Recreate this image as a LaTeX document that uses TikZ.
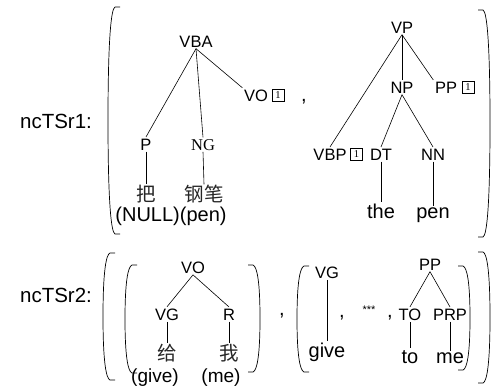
\documentclass[tikz,border=0pt]{standalone}
\usepackage{fontspec}
\setmainfont{Liberation Sans}
\newfontfamily\serifface{Liberation Serif}
\newfontfamily\cjk{Noto Sans CJK SC}
\tikzset{
  lbl/.style={font=\fontsize{16.5}{16.5}\selectfont, inner sep=1.5pt, anchor=base},
  leaf/.style={font=\fontsize{20}{20}\selectfont, inner sep=1.5pt, anchor=base},
  big/.style={font=\fontsize{20.5}{20.5}\selectfont, inner sep=0pt, anchor=base},
  zh/.style={font=\cjk\fontsize{19.5}{19.5}\selectfont, inner sep=0.5pt, text=black!85},
  bx/.style={draw, line width=0.5pt, inner sep=0pt, minimum width=12pt, minimum height=12pt, font=\serifface\fontsize{10.5}{10.5}\selectfont},
  edge/.style={line width=0.6pt},
  br/.style={line width=0.7pt}
}
\newcommand\LBr[3]{\draw[br] ({#1+12},#2) -- ({#1+7},#2) .. controls ({#1+3},{#2+1.5}) and (#1,{#2+0.15*(#3-#2)}) .. (#1,{(#2+#3)/2}) .. controls (#1,{#3-0.15*(#3-#2)}) and ({#1+3},{#3-1.5}) .. ({#1+7},#3) -- ({#1+12},#3);}
\newcommand\RBr[3]{\draw[br] ({#1-12},#2) -- ({#1-7},#2) .. controls ({#1-3},{#2+1.5}) and (#1,{#2+0.15*(#3-#2)}) .. (#1,{(#2+#3)/2}) .. controls (#1,{#3-0.15*(#3-#2)}) and ({#1-3},{#3-1.5}) .. ({#1-7},#3) -- ({#1-12},#3);}
\begin{document}
\begin{tikzpicture}[x=1pt,y=-1pt]
\useasboundingbox (0,0) rectangle (497,389);
% ---------- row 1 ----------
\node[big] (l1) at (56,128) {ncTSr1:};
\LBr{108}{7}{234}
\RBr{490}{10}{237}
% tree 1
\node[lbl] (vba) at (196,47) {VBA};
\node[lbl] (p) at (146,150) {P};
\node[lbl, font=\serifface\fontsize{16.5}{16.5}\selectfont] (ng) at (203,150) {NG};
\node[lbl] (vo) at (256,101) {VO};
\node[bx, anchor=south west] (vobx) at ([xshift=2pt]vo.base east) {1};
\node[leaf] (comma1) at (304,101) {,};
\node[zh] (ba) at (146,194) {把};
\node[zh] (gb) at (204,194) {钢笔};
\node[leaf, inner sep=0pt] (glo1) at (171,221) {(NULL)(pen)};
\draw[edge] (vba.south) -- (p.north);
\draw[edge] (vba.south) -- (ng.north);
\draw[edge] (vba.south) -- (vo.north west);
\draw[edge] (p.south) -- (ba.north);
\draw[edge] (ng.south) -- (gb.north);
% tree 2
\node[lbl] (vp) at (402,33) {VP};
\node[lbl] (np) at (402,93) {NP};
\node[lbl] (pp) at (446,93) {PP};
\node[bx, anchor=south west] (ppbx) at ([xshift=3pt]pp.base east) {1};
\node[lbl] (vbp) at (330,160) {VBP};
\node[bx, anchor=south west] (vbpbx) at ([xshift=2pt]vbp.base east) {1};
\node[lbl] (dt) at (381,160) {DT};
\node[lbl] (nn) at (433,160) {NN};
\node[leaf] (the) at (381,218) {the};
\node[leaf] (pen) at (433,218) {pen};
\draw[edge] (vp.south) -- (vbp.north);
\draw[edge] (vp.south) -- (np.north);
\draw[edge] (vp.south) -- (pp.north west);
\draw[edge] (np.south) -- (dt.north);
\draw[edge] (np.south) -- (nn.north);
\draw[edge] (dt.south) -- (the.north);
\draw[edge] (nn.south) -- (pen.north);
% ---------- row 2 ----------
\node[big] (l2) at (56,302) {ncTSr2:};
\LBr{103}{253}{380}
\RBr{490}{252}{383}
\LBr{125}{265}{373}
\RBr{260}{265}{372}
\node[leaf] (comma2) at (282,315) {,};
\LBr{297}{266}{372}
\RBr{470}{266}{370}
% tree 3
\node[lbl] (vo2) at (193,273) {VO};
\node[lbl] (vg) at (167,320) {VG};
\node[lbl] (r) at (229,320) {R};
\node[zh] (gei) at (167,353) {给};
\node[zh] (wo) at (229,353) {我};
\node[leaf, inner sep=0pt, font=\fontsize{19}{19}\selectfont] (give1) at (155,382) {(give)};
\node[leaf, inner sep=0pt, font=\fontsize{19}{19}\selectfont] (me1) at (221,382) {(me)};
\draw[edge] (vo2.south) -- (vg.north);
\draw[edge] (vo2.south) -- (r.north);
\draw[edge] (vg.south) -- (gei.north);
\draw[edge] (r.south) -- (wo.north);
% tree 4
\node[lbl] (vg2) at (327,278) {VG};
\node[leaf] (give) at (327,357) {give};
\draw[edge] (vg2.south) -- (give.north);
\node[leaf] (comma3) at (342,317) {,};
\node[lbl, font=\fontsize{11}{11}\selectfont] (dots) at (369,313) {***};
\node[leaf] (comma4) at (390,317) {,};
\node[lbl] (pp2) at (430,270) {PP};
\node[lbl] (to) at (410,320) {TO};
\node[lbl] (prp) at (450,320) {PRP};
\node[leaf] (to2) at (410,363) {to};
\node[leaf] (me2) at (450,363) {me};
\draw[edge] (pp2.south) -- (to.north);
\draw[edge] (pp2.south) -- (prp.north);
\draw[edge] (to.south) -- (to2.north);
\draw[edge] (prp.south) -- (me2.north);
\end{tikzpicture}
\end{document}
